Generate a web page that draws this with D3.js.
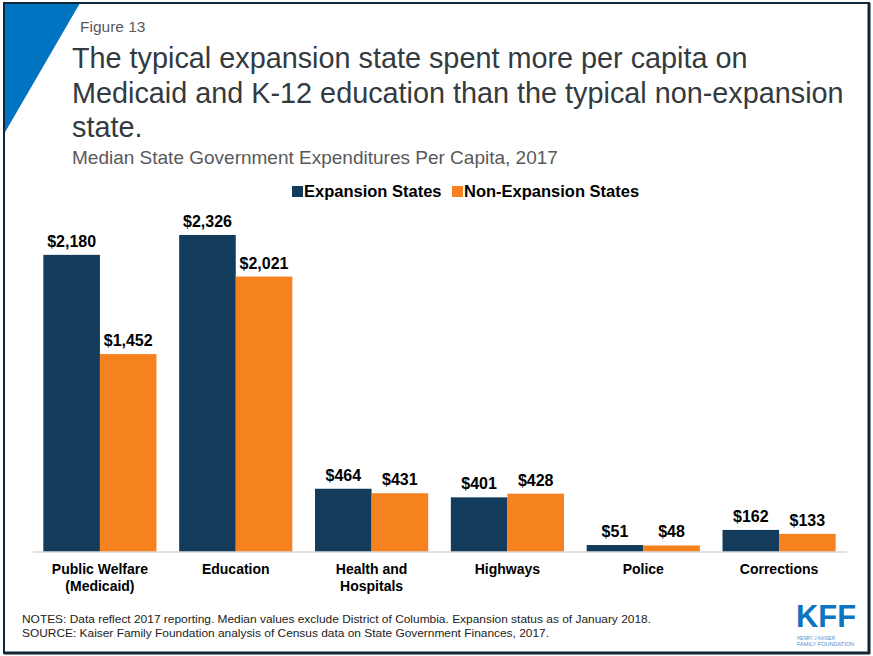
<!DOCTYPE html>
<html>
<head>
<meta charset="utf-8">
<script src="https://cdn.jsdelivr.net/npm/d3@7/dist/d3.min.js"></script>
<style>
  html, body { margin: 0; padding: 0; background: #fff; }
  svg { display: block; }
  text { font-family: "Liberation Sans", Arial, sans-serif; }
</style>
</head>
<body>
<script>
const categories = ["Public Welfare|(Medicaid)", "Education", "Health and|Hospitals", "Highways", "Police", "Corrections"];
const seriesNames = ["Expansion States", "Non-Expansion States"];
const expansion = [2180, 2326, 464, 401, 51, 162];
const nonExpansion = [1452, 2021, 431, 428, 48, 133];
const colors = ["#133b5c", "#f5821f"];
const titleLines = ["The typical expansion state spent more per capita on", "Medicaid and K-12 education than the typical non-expansion", "state."];
const subtitle = "Median State Government Expenditures Per Capita, 2017";
const figureLabel = "Figure 13";
const notes = ["NOTES: Data reflect 2017 reporting. Median values exclude District of Columbia. Expansion status as of January 2018.",
               "SOURCE: Kaiser Family Foundation analysis of Census data on State Government Finances, 2017."];

const W = 873, H = 656;
const svg = d3.select("body").append("svg").attr("width", W).attr("height", H);

// frame
svg.append("rect").attr("x", 0).attr("y", 0).attr("width", W).attr("height", H).attr("fill", "#fff");
svg.append("polygon").attr("points", "4,3 80,3 4,134").attr("fill", "#0074c1");
svg.append("rect").attr("x", 4).attr("y", 3).attr("width", 865).attr("height", 650)
  .attr("fill", "none").attr("stroke", "#0f2538").attr("stroke-width", 2);
svg.append("line").attr("x1", 869).attr("x2", 869).attr("y1", 3).attr("y2", 654).attr("stroke", "#0f2538").attr("stroke-width", 3);
svg.append("line").attr("x1", 4).attr("x2", 870).attr("y1", 653).attr("y2", 653).attr("stroke", "#0f2538").attr("stroke-width", 3);

svg.append("text").attr("x", 80).attr("y", 32).attr("font-size", 15.5).attr("fill", "#595959").text(figureLabel);
svg.append("g").selectAll("text").data(titleLines).join("text")
  .attr("x", 72).attr("y", (d, i) => 68 + i * 34.5)
  .attr("font-size", 28.8).attr("fill", "#333a40").text(d => d);
svg.append("text").attr("x", 72).attr("y", 164).attr("font-size", 19).attr("fill", "#595959").text(subtitle);

// legend
const legendX = [292, 452];
const lg = svg.append("g");
seriesNames.forEach((s, i) => {
  lg.append("rect").attr("x", legendX[i]).attr("y", 186).attr("width", 11).attr("height", 11).attr("fill", colors[i]);
  lg.append("text").attr("x", legendX[i] + 12).attr("y", 197).attr("font-size", 16.5).attr("font-weight", "bold")
    .attr("fill", "#000").text(s);
});

// scales
const x0 = d3.scaleBand().domain(categories).range([32, 847]).paddingInner(0.167).paddingOuter(0.0835);
const x1 = d3.scaleBand().domain([0, 1]).range([0, x0.bandwidth()]);
const y = d3.scaleLinear().domain([0, 2500]).range([552, 552 - 0.1363 * 2500]);

const data = categories.map((c, i) => ({ cat: c, vals: [expansion[i], nonExpansion[i]] }));

const groups = svg.append("g").selectAll("g").data(data).join("g")
  .attr("transform", d => `translate(${x0(d.cat)},0)`);
groups.selectAll("rect").data(d => d.vals.map((v, k) => ({ v, k }))).join("rect")
  .attr("x", d => x1(d.k)).attr("width", x1.bandwidth())
  .attr("y", d => y(d.v)).attr("height", d => y(0) - y(d.v))
  .attr("fill", d => colors[d.k]);
groups.selectAll("text.val").data(d => d.vals.map((v, k) => ({ v, k }))).join("text")
  .attr("class", "val")
  .attr("x", d => x1(d.k) + x1.bandwidth() / 2).attr("y", d => y(d.v) - 8)
  .attr("text-anchor", "middle").attr("font-size", 16).attr("font-weight", "bold").attr("fill", "#000")
  .text(d => "$" + d3.format(",")(d.v));

// axis
const xAxis = d3.axisBottom(x0).tickSize(0).tickFormat("");
const ax = svg.append("g").attr("transform", "translate(0,552)").call(xAxis);
ax.select(".domain").attr("stroke", "#d9d9d9").attr("stroke-width", 1.5).attr("d", "M33,0H847");
ax.selectAll(".tick").each(function(d) {
  const lines = d.split("|");
  const t = d3.select(this).append("text").attr("fill", "#000").attr("font-size", 14).attr("font-weight", "bold")
    .attr("text-anchor", "middle").attr("font-family", "Liberation Sans, Arial, sans-serif");
  lines.forEach((l, i) => t.append("tspan").attr("x", 0).attr("y", 22 + i * 17).text(l));
});

// notes
const noteLen = [629, 527];
svg.append("g").selectAll("text").data(notes).join("text")
  .attr("x", 22).attr("y", (d, i) => 623 + i * 14)
  .attr("font-size", 11.5).attr("fill", "#222")
  .attr("font-family", "Liberation Sans Narrow, Liberation Sans, Arial, sans-serif")
  .attr("textLength", (d, i) => noteLen[i]).attr("lengthAdjust", "spacingAndGlyphs")
  .text(d => d);

// KFF logo
svg.append("text").attr("x", 796).attr("y", 627).attr("font-size", 32).attr("font-weight", "bold")
  .attr("fill", "#0d75c0").attr("font-family", "Liberation Sans Narrow, Liberation Sans, sans-serif")
  .attr("textLength", 60).attr("lengthAdjust", "spacingAndGlyphs").text("KFF");
svg.append("text").attr("x", 797).attr("y", 640).attr("font-size", 5).attr("fill", "#4a8fcf")
  .attr("textLength", 38).attr("lengthAdjust", "spacingAndGlyphs").text("HENRY J KAISER");
svg.append("text").attr("x", 797).attr("y", 646).attr("font-size", 5).attr("fill", "#4a8fcf")
  .attr("textLength", 57).attr("lengthAdjust", "spacingAndGlyphs").text("FAMILY FOUNDATION");
</script>
</body>
</html>
